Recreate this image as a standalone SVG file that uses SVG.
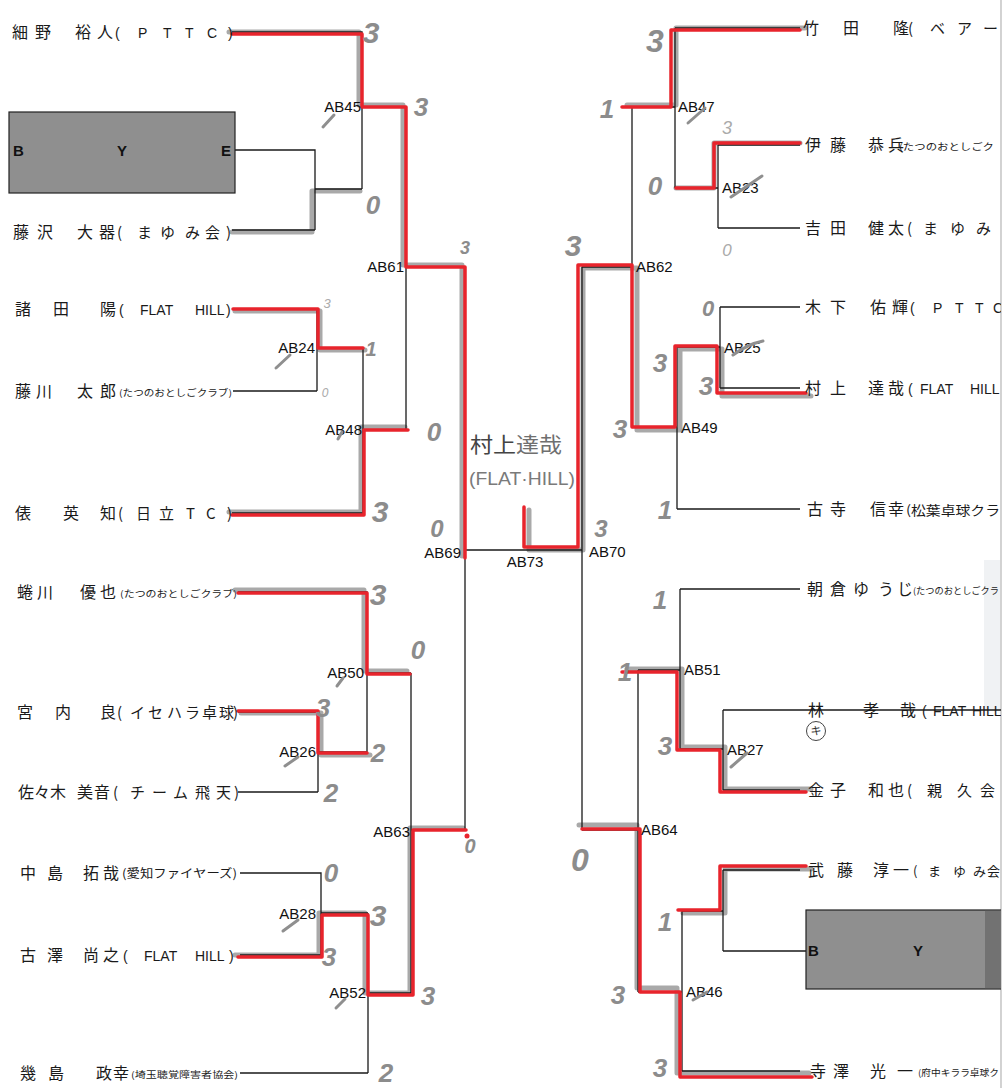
<svg xmlns="http://www.w3.org/2000/svg" xmlns:xlink="http://www.w3.org/1999/xlink" width="1005" height="1088" viewBox="0 0 1005 1088">
<style>
.nm{font-family:"Noto Sans CJK JP","Noto Sans",sans-serif;font-size:16px;fill:#1a1a1a}
.cl{font-family:"Noto Sans CJK JP","Noto Sans",sans-serif;font-size:15px;fill:#1a1a1a}
.la{font-family:"Liberation Sans",Arial,sans-serif;font-size:14px;fill:#1a1a1a}
.sm{font-family:"Noto Sans CJK JP",sans-serif;font-size:9px;fill:#1a1a1a}
.lbl{font-family:"Liberation Sans",Arial,sans-serif;font-size:15px;fill:#111}
.ln{stroke:#1a1a1a;stroke-width:1.3;fill:none}
.red{stroke:#e8242c;stroke-width:3.5;fill:none;stroke-linecap:round;stroke-linejoin:round}
.gry{stroke:#9a9a9a;stroke-width:5;fill:none;stroke-linecap:round;stroke-linejoin:round;opacity:.85}
.sc{font-family:"Liberation Sans",Arial,sans-serif;font-style:italic;font-weight:bold;font-size:26px;fill:#8c8c8c;text-anchor:middle}
.sl{font-family:"Liberation Sans",Arial,sans-serif;font-style:italic;font-size:15px;fill:#aaa;text-anchor:middle}
.chk{stroke:#8f8f8f;stroke-width:3;stroke-linecap:round;fill:none}
.bye{fill:#8f8f8f;stroke:#222;stroke-width:1.2}
.byt{font-family:"Liberation Sans",Arial,sans-serif;font-weight:bold;font-size:15px;fill:#111}
.hw{font-family:"Noto Sans CJK JP",sans-serif;fill:#6f6f6f}
</style>
<defs>
<clipPath id="clipR"><rect x="0" y="0" width="1001" height="1088"/></clipPath>
<path id="w1" d="M232,34 H362 V107 H406 V267 H465 V558"/>
<path id="w2" d="M233,309 H318 V348 H363"/>
<path id="w3" d="M232,515 H364 V430 H408"/>
<path id="w4" d="M238,593 H367 V674 H410"/>
<path id="w5" d="M238,711 H318 V753 H367"/>
<path id="w6" d="M238,957 H322 V915 H368 V995 H413 V830 H466"/>
<path id="w7" d="M800,30 H671 V107 H622"/>
<path id="w8" d="M800,143 H714 V188 H676"/>
<path id="w9" d="M806,393 H717 V346 H675 V427 H632 V265 H578 V547 H524 V507"/>
<path id="w10" d="M806,792 H720 V750 H677 V672 H622"/>
<path id="w11" d="M806,866 H720 V910 H678"/>
<path id="w12" d="M812,1077 H680 V992 H640 V829 H582"/>
<path id="w13" d="M232,232 H312 V191 H360"/>
</defs>
<rect x="0" y="0" width="1005" height="1088" fill="#ffffff"/>
<rect x="984" y="560" width="16" height="150" fill="#e9ecef" opacity=".7"/>
<line x1="1001" y1="0" x2="1001" y2="1088" stroke="#b5b5b5" stroke-width="1.2"/>

<!-- connectors -->
<g id="connectors">
<g id="markers">
<use xlink:href="#w1" class="gry" transform="translate(-3,-2)"/>
<use xlink:href="#w2" class="gry" transform="translate(2,2)"/>
<use xlink:href="#w3" class="gry" transform="translate(-3,-3)"/>
<use xlink:href="#w4" class="gry" transform="translate(-3,-3)"/>
<use xlink:href="#w5" class="gry" transform="translate(3,2)"/>
<use xlink:href="#w6" class="gry" transform="translate(-3,-2)"/>
<use xlink:href="#w7" class="gry" transform="translate(5,-2)"/>
<use xlink:href="#w8" class="gry" transform="translate(0,0)"/>
<use xlink:href="#w9" class="gry" transform="translate(5,3)"/>
<use xlink:href="#w10" class="gry" transform="translate(5,-3)"/>
<use xlink:href="#w11" class="gry" transform="translate(5,3)"/>
<use xlink:href="#w12" class="gry" transform="translate(-3,-4)"/>
<use xlink:href="#w13" class="gry"/>
</g>
<g id="lines">
<path class="ln" d="M232,32 H362 V189 M235,150 H315 V230 M232,230 H315 M315,189 H362 M362,107 H406 M406,107 V430 M406,267 H465"/>
<path class="ln" d="M232,309 H317 V391 M233,391 H317 M317,348 H363 M363,348 V513 M232,513 H363 M363,430 H406"/>
<path class="ln" d="M238,592 H367 V752 M367,673 H411 M238,712 H318 V792 M238,792 H318 M318,752 H367 M411,673 V993 M411,830 H465"/>
<path class="ln" d="M240,873 H321 V955 M240,955 H321 M321,913 H368 M368,913 V1073 M240,1073 H368 M368,993 H411"/>
<path class="ln" d="M465,267 V830 M465,550 H582 M582,267 V830"/>
<path class="ln" d="M582,267 H632 M632,107 V427 M632,107 H675 M675,28 V188 M675,28 H800 M675,188 H718 M718,145 V228 M718,145 H800 M718,228 H800"/>
<path class="ln" d="M632,427 H677 M677,347 V509 M677,509 H800 M677,347 H720 M720,307 V388 M720,307 H800 M720,388 H800"/>
<path class="ln" d="M582,830 H638 M638,670 V992 M638,670 H680 M680,589 V749 M680,589 H800 M680,749 H723 M723,710 V790 M723,710 H1001 M723,790 H800"/>
<path class="ln" d="M638,992 H682 M682,911 V1071 M682,1071 H800 M682,911 H723 M723,870 V951 M723,870 H800 M723,951 H806"/>
</g>
<g id="winners">
<use xlink:href="#w1" class="red"/>
<use xlink:href="#w2" class="red"/>
<use xlink:href="#w3" class="red"/>
<use xlink:href="#w4" class="red"/>
<use xlink:href="#w5" class="red"/>
<use xlink:href="#w6" class="red"/>
<use xlink:href="#w7" class="red"/>
<use xlink:href="#w8" class="red"/>
<use xlink:href="#w9" class="red"/>
<use xlink:href="#w10" class="red"/>
<use xlink:href="#w11" class="red"/>
<use xlink:href="#w12" class="red"/>
<circle cx="467" cy="836" r="2.5" fill="#e8242c"/>
</g>
</g>

<!-- left players -->
<g id="p-hosono"><text class="nm" x="12 35 75 97" y="38">細野裕人</text><text class="la" x="115 138 163 185 207 228" y="38">(PTTC)</text></g>
<g id="bye-left"><rect class="bye" x="9" y="112" width="226" height="81"/><text class="byt" x="13" y="156">B</text><text class="byt" x="117" y="156">Y</text><text class="byt" x="221" y="156">E</text></g>
<g id="p-fujisawa"><text class="nm" x="13 37 77 99" y="238">藤沢大器</text><text class="cl" x="117 137 160 185 205 226" y="238">(まゆみ会)</text></g>
<g id="p-morota"><text class="nm" x="15 53 100" y="315">諸田陽</text><text class="la" y="315"><tspan x="119">(</tspan><tspan x="140">FLAT</tspan><tspan x="195">HILL</tspan><tspan x="226">)</tspan></text></g>
<g id="p-fujikawa"><text class="nm" x="15 36 77 100" y="397">藤川太郎</text><text class="sm" x="119" y="396" textLength="113" lengthAdjust="spacingAndGlyphs">(たつのおとしごクラブ)</text></g>
<g id="p-tawara"><text class="nm" x="15 63 100" y="519">俵英知</text><text class="cl" x="118 136 159 186 206 227" y="519">(日立TC)</text></g>
<g id="p-ninagawa"><text class="nm" x="17 37 80 100" y="598">蜷川優也</text><text class="sm" x="120" y="597" textLength="117" lengthAdjust="spacingAndGlyphs">(たつのおとしごクラブ)</text></g>
<g id="p-miyauchi"><text class="nm" x="17 55 100" y="718">宮内良</text><text class="cl" x="117 130 148 167 185 202 219 233" y="718">(イセハラ卓球)</text></g>
<g id="p-sasaki"><text class="nm" x="18 34 50 77 94" y="798">佐々木美音</text><text class="cl" x="113 130 152 173 195 216 234" y="798">(チーム飛天)</text></g>
<g id="p-nakajima"><text class="nm" x="20 47 83 103" y="879">中島拓哉</text><text class="cl" x="122" y="878" style="font-size:12px" textLength="115" lengthAdjust="spacingAndGlyphs">(愛知ファイヤーズ)</text></g>
<g id="p-furusawa"><text class="nm" x="20 47 83 103" y="961">古澤尚之</text><text class="la" y="961"><tspan x="123">(</tspan><tspan x="144">FLAT</tspan><tspan x="195">HILL</tspan><tspan x="229">)</tspan></text></g>
<g id="p-ikushima"><text class="nm" x="20 48 96 113" y="1079">幾島政幸</text><text class="sm" x="131" y="1078" textLength="107" lengthAdjust="spacingAndGlyphs">(埼玉聴覚障害者協会)</text></g>

<!-- right players -->
<g clip-path="url(#clipR)">
<g id="p-takeda"><text class="nm" x="803 843 893" y="34">竹田隆</text><text class="cl" x="908 930 957 983" y="34">(ベアー</text></g>
<g id="p-ito"><text class="nm" x="805 830 868 888" y="151">伊藤恭兵</text><text class="sm" x="899" y="150" textLength="95" lengthAdjust="spacingAndGlyphs">(たつのおとしごク</text></g>
<g id="p-yoshida"><text class="nm" x="805 830 868 888" y="234">吉田健太</text><text class="cl" x="907 923 950 976" y="234">(まゆみ</text></g>
<g id="p-kinoshita"><text class="nm" x="805 830 870 892" y="313">木下佑輝</text><text class="la" x="910 933 955 975 993" y="313">(PTTC</text></g>
<g id="p-murakami"><text class="nm" x="805 830 868 888" y="394">村上達哉</text><text class="la" y="394"><tspan x="908">(</tspan><tspan x="920">FLAT</tspan><tspan x="970">HILL</tspan></text></g>
<g id="p-furutera"><text class="nm" x="807 830 870 888" y="515">古寺信幸</text><text class="cl" x="906" y="515" style="font-size:13px" textLength="94" lengthAdjust="spacingAndGlyphs">(松葉卓球クラ</text></g>
<g id="p-asakura"><text class="nm" x="807 830 853 878 897" y="595">朝倉ゆうじ</text><text class="sm" x="913" y="594" textLength="86" lengthAdjust="spacingAndGlyphs">(たつのおとしごクラ</text></g>
<g id="p-hayashi"><text class="nm" x="808 863 900" y="716">林孝哉</text><text class="la" y="716"><tspan x="922">(</tspan><tspan x="933">FLAT</tspan><tspan x="972">HILL</tspan></text><circle cx="816" cy="731" r="9.5" fill="none" stroke="#444" stroke-width="1"/><text class="nm" x="816" y="735" style="font-size:11px;fill:#333" text-anchor="middle">キ</text></g>
<g id="p-kaneko"><text class="nm" x="808 830 868 888" y="796">金子和也</text><text class="cl" x="907 927 957 980" y="796">(親久会</text></g>
<g id="p-muto"><text class="nm" x="808 837 873 893" y="876">武藤淳一</text><text class="cl" x="913 928 953 973 987" y="876" style="font-size:13px">(まゆみ会</text></g>
<g id="bye-right"><rect class="bye" x="806" y="910" width="200" height="79"/><rect x="985" y="910" width="16" height="79" fill="#555" opacity=".5"/><text class="byt" x="808" y="956">B</text><text class="byt" x="913" y="956">Y</text></g>
<g id="p-terasawa"><text class="nm" x="810 833 870 897" y="1077">寺澤光一</text><text class="sm" x="918" y="1076" textLength="81" lengthAdjust="spacingAndGlyphs">(府中キララ卓球ク</text></g>
</g>

<!-- match labels -->
<g id="matches" class="lbl">
<g id="m-AB45"><text x="361" y="112" text-anchor="end">AB45</text></g>
<g id="m-AB61"><text x="404" y="272" text-anchor="end">AB61</text></g>
<g id="m-AB24"><text x="315" y="353" text-anchor="end">AB24</text></g>
<g id="m-AB48"><text x="362" y="435" text-anchor="end">AB48</text></g>
<g id="m-AB69"><text x="461" y="558" text-anchor="end">AB69</text></g>
<g id="m-AB73"><text x="525" y="567" text-anchor="middle">AB73</text></g>
<g id="m-AB70"><text x="589" y="557">AB70</text></g>
<g id="m-AB50"><text x="364" y="678" text-anchor="end">AB50</text></g>
<g id="m-AB26"><text x="316" y="757" text-anchor="end">AB26</text></g>
<g id="m-AB63"><text x="410" y="837" text-anchor="end">AB63</text></g>
<g id="m-AB28"><text x="316" y="919" text-anchor="end">AB28</text></g>
<g id="m-AB52"><text x="366" y="998" text-anchor="end">AB52</text></g>
<g id="m-AB47"><text x="678" y="112">AB47</text></g>
<g id="m-AB23"><text x="722" y="193">AB23</text></g>
<g id="m-AB62"><text x="636" y="272">AB62</text></g>
<g id="m-AB25"><text x="724" y="353">AB25</text></g>
<g id="m-AB49"><text x="681" y="433">AB49</text></g>
<g id="m-AB51"><text x="684" y="675">AB51</text></g>
<g id="m-AB27"><text x="727" y="755">AB27</text></g>
<g id="m-AB64"><text x="641" y="835">AB64</text></g>
<g id="m-AB46"><text x="686" y="997">AB46</text></g>
</g>

<!-- check marks -->
<g id="checks" class="chk">
<path d="M323,127 L334,115"/><path d="M276,368 L290,355"/><path d="M338,439 L342,432"/>
<path d="M337,686 L343,678"/><path d="M285,766 L298,757"/><path d="M283,931 L298,920"/>
<path d="M336,1008 L345,999"/><path d="M688,123 L705,108"/><path d="M731,197 L762,176"/>
<path d="M733,355 Q748,344 763,341"/><path d="M731,767 L747,753"/><path d="M693,1000 L707,992"/>
</g>

<!-- handwritten scores -->
<g id="scores">
<text class="sc" x="371" y="43" style="font-size:30px">3</text>
<text class="sc" x="421" y="116">3</text>
<text class="sc" x="373" y="214">0</text>
<text class="sc" x="465" y="254" style="font-size:18px">3</text>
<text class="sl" x="327" y="308" style="font-size:13px">3</text>
<text class="sc" x="371" y="356" style="font-size:20px">1</text>
<text class="sl" x="325" y="397" style="font-size:12px">0</text>
<text class="sc" x="434" y="441">0</text>
<text class="sc" x="380" y="522" style="font-size:30px">3</text>
<text class="sc" x="437" y="537" style="font-size:24px">0</text>
<text class="sc" x="378" y="605" style="font-size:30px">3</text>
<text class="sc" x="418" y="659">0</text>
<text class="sc" x="323" y="717">3</text>
<text class="sc" x="378" y="762">2</text>
<text class="sc" x="331" y="802">2</text>
<text class="sc" x="470" y="853" style="font-size:20px">0</text>
<text class="sc" x="331" y="882">0</text>
<text class="sc" x="378" y="926" style="font-size:30px">3</text>
<text class="sc" x="329" y="966">3</text>
<text class="sc" x="428" y="1005">3</text>
<text class="sc" x="386" y="1082">2</text>
<text class="sc" x="655" y="52" style="font-size:32px">3</text>
<text class="sc" x="607" y="118">1</text>
<text class="sl" x="727" y="134" style="font-size:18px">3</text>
<text class="sc" x="655" y="195">0</text>
<text class="sl" x="727" y="256" style="font-size:17px">0</text>
<text class="sc" x="573" y="256" style="font-size:30px">3</text>
<text class="sc" x="708" y="316" style="font-size:22px">0</text>
<text class="sc" x="660" y="372">3</text>
<text class="sc" x="706" y="395">3</text>
<text class="sc" x="620" y="438">3</text>
<text class="sc" x="665" y="519">1</text>
<text class="sc" x="601" y="537" style="font-size:24px">3</text>
<text class="sc" x="660" y="609">1</text>
<text class="sc" x="625" y="681">1</text>
<text class="sc" x="665" y="755">3</text>
<text class="sc" x="580" y="871" style="font-size:32px">0</text>
<text class="sc" x="665" y="931">1</text>
<text class="sc" x="618" y="1004">3</text>
<text class="sc" x="660" y="1077">3</text>
</g>

<!-- handwritten winner note -->
<g id="winner-note">
<text class="hw" x="470" y="452" style="font-size:21px" textLength="92" lengthAdjust="spacingAndGlyphs"><tspan style="fill:#444">村上</tspan>達哉</text>
<text class="hw" x="469" y="485" style="font-size:19px;font-family:'Liberation Sans',sans-serif;fill:#7a7a7a" textLength="106" lengthAdjust="spacingAndGlyphs">(FLAT·HILL)</text>
</g>
</svg>
